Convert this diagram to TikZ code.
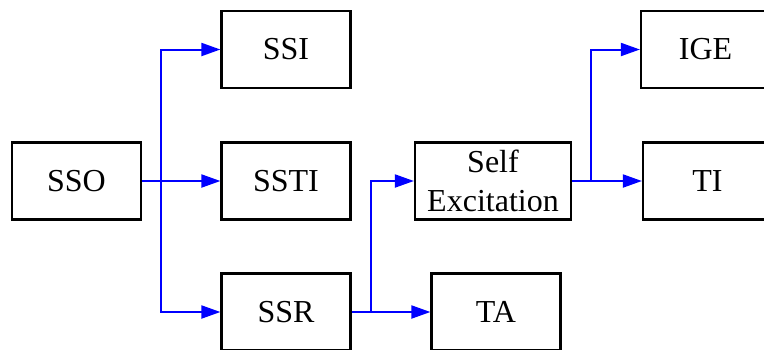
\documentclass[tikz,border=0pt]{standalone}
\usepackage{fontspec}
\setmainfont{Liberation Serif}
\newfontfamily\boxfont{Liberation Serif}
\usetikzlibrary{arrows.meta}
\begin{document}
\begin{tikzpicture}[x=1pt,y=1pt,
  box/.style={draw=black, line width=2.2pt, minimum width=129pt, minimum height=77pt,
    inner sep=2pt, align=center, font=\boxfont\fontsize{32}{39.5}\selectfont},
  conn/.style={draw=blue, line width=2pt,
    -{Triangle[length=19pt,width=13pt]}}]
\useasboundingbox (0,0) rectangle (764,-349);
% boxes
\node[box] (sso)  at (76.5,-181) {SSO};
\node[box] (ssi)  at (286,-49.5) {SSI};
\node[box] (ssti) at (286,-181) {SSTI};
\node[box] (ssr)  at (286,-312) {SSR};
\node[box, minimum width=156pt] (self) at (493,-181) {Self\\Excitation};
\node[box] (ta)   at (496,-312) {TA};
\node[box] (ige)  at (705.5,-49.5) {IGE};
\node[box] (ti)   at (707.5,-181) {TI};
% branch points
\coordinate (b1) at (161,-181);
\coordinate (b2) at (371,-312);
\coordinate (b3) at (591,-181);
% connectors
\draw[conn] (sso.east) -- (ssti.west);
\draw[conn] (b1) |- (ssi.west);
\draw[conn] (b1) |- (ssr.west);
\draw[conn] (ssr.east) -- (ta.west);
\draw[conn] (b2) |- (self.west);
\draw[conn] (self.east) -- (ti.west);
\draw[conn] (b3) |- (ige.west);
\end{tikzpicture}
\end{document}
